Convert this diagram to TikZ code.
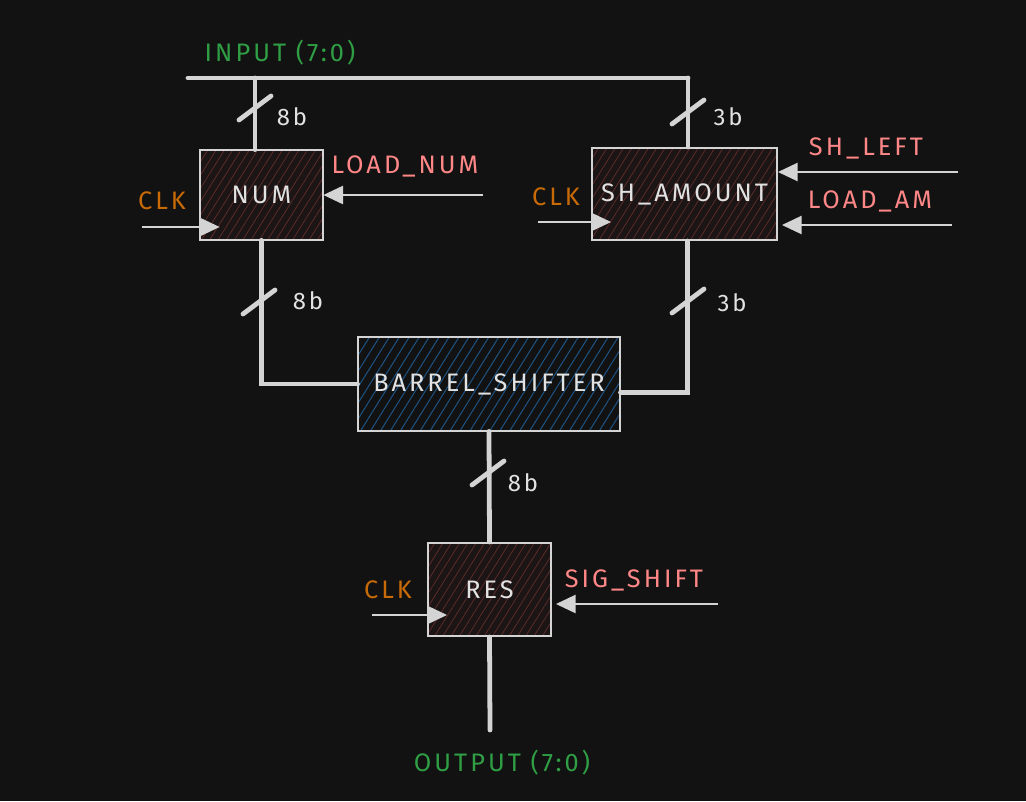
\documentclass[tikz,border=0pt]{standalone}
\usepackage{fontspec}
\setmainfont{Fira Sans}[LetterSpace=12]
\usetikzlibrary{arrows.meta}
\usetikzlibrary{calc}
\usetikzlibrary{patterns.meta}

\definecolor{bgdark}{HTML}{121212}
\definecolor{wire}{HTML}{D4D4D4}
\definecolor{txtlight}{HTML}{E2E2E2}
\definecolor{busgreen}{HTML}{2F9E44}
\definecolor{sigred}{HTML}{FF8787}
\definecolor{clkorange}{HTML}{C86A06}
\definecolor{regfill}{HTML}{1B1515}
\definecolor{reghatch}{HTML}{5E2C2C}
\definecolor{bshatch}{HTML}{1E5485}

\tikzset{
  regbox/.style={draw=wire, line width=1.4pt, text=txtlight,
    preaction={fill=regfill}, pattern={Lines[angle=58, distance=5pt, line width=0.55pt]},
    pattern color=reghatch, font=\fontsize{18}{20}\selectfont},
  shiftbox/.style={draw=wire, line width=1.6pt, text=txtlight,
    preaction={fill=bgdark}, pattern={Lines[angle=58, distance=6pt, line width=0.7pt]},
    pattern color=bshatch, font=\fontsize{18}{20}\selectfont},
  bus/.style={draw=wire, line width=3.4pt, line cap=round},
  slash/.style={draw=wire, line width=3.4pt, line cap=round},
  sig/.style={draw=wire, line width=1.2pt, -{Triangle[length=14pt, width=13pt]}},
  buslbl/.style={text=busgreen, font=\fontsize{18}{20}\selectfont},
  siglbl/.style={text=sigred, font=\fontsize{18}{20}\selectfont},
  clklbl/.style={text=clkorange, font=\fontsize{18}{20}\selectfont},
  bitlbl/.style={text=txtlight, font=\fontsize{17}{19}\selectfont}
}

\begin{document}
\begin{tikzpicture}[x=0.25mm, y=-0.25mm]
  \fill[bgdark] (0,0) rectangle (1026,801);
  \useasboundingbox (0,0) rectangle (1026,801);

  % registers and shifter
  \node[regbox, minimum width=30.75mm, minimum height=22.5mm] (NUM) at (261.5,195) {NUM};
  \node[regbox, minimum width=46.25mm, minimum height=23mm] (SHAM) at (684.5,194) {SH\_AMOUNT};
  \node[shiftbox, minimum width=65.5mm, minimum height=23.5mm] (BS) at (489,384) {BARREL\_SHIFTER};
  \node[regbox, minimum width=30.75mm, minimum height=23.25mm] (RES) at (489.5,589.5) {RES};

  % input bus
  \coordinate (in0) at (188,78);
  \coordinate (in1) at (688,78);
  \coordinate (tapN) at (255,78);
  \node[buslbl] (inlbl) at (280,53) {INPUT (7:0)};
  \draw[bus] (in0) -- (in1);
  \draw[bus] (tapN) -- (tapN |- NUM.north);
  \draw[bus] (in1) -- (in1 |- SHAM.north);

  % register outputs into the shifter
  \draw[bus] (NUM.south) |- (BS.west);
  \draw[bus] (SHAM.south) ++(3,0) |- ([yshift=-6pt]BS.east);
  \draw[bus] (BS.south) -- (RES.north);
  \coordinate (out) at (490,730);
  \draw[bus] (RES.south) -- (out);
  \node[buslbl] (outlbl) at (502,763) {OUTPUT (7:0)};

  % bus width marks
  \coordinate (s1) at (255,108);
  \coordinate (s2) at (688,112);
  \coordinate (s3) at (259,302);
  \coordinate (s4) at (688,301);
  \coordinate (s5) at (488,473);
  \foreach \s in {s1,s2,s3,s4,s5}
    \draw[slash] ($(\s)+(-16,12)$) -- ($(\s)+(16,-12)$);
  \node[bitlbl] (w1) at (292,117) {8b};
  \node[bitlbl] (w2) at (728,117) {3b};
  \node[bitlbl] (w3) at (308,301) {8b};
  \node[bitlbl] (w4) at (732,303) {3b};
  \node[bitlbl] (w5) at (523,483) {8b};

  % control signals
  \coordinate (ldnum) at (483,195);
  \node[siglbl] (ldnumlbl) at (405,166) {LOAD\_NUM};
  \draw[sig] (ldnum) -- (ldnum -| NUM.east);

  \coordinate (shl) at (958,172);
  \node[siglbl] (shllbl) at (866,148) {SH\_LEFT};
  \draw[sig] (shl) -- (shl -| SHAM.east);

  \coordinate (ldam) at (952,225);
  \node[siglbl] (ldamlbl) at (870,201) {LOAD\_AM};
  \draw[sig] (ldam) -- ($(ldam -| SHAM.east)+(4,0)$);

  \coordinate (sigs) at (718,604);
  \node[siglbl] (sigslbl) at (634,580) {SIG\_SHIFT};
  \draw[sig] (sigs) -- ($(sigs -| RES.east)+(4,0)$);

  % clocks
  \coordinate (ck1) at (142,227);
  \coordinate (ck2) at (538,222);
  \coordinate (ck3) at (372,615);
  \node[clklbl] (ck1lbl) at (162,201) {CLK};
  \node[clklbl] (ck2lbl) at (556,197) {CLK};
  \node[clklbl] (ck3lbl) at (388,590) {CLK};
  \draw[sig] (ck1) -- ($(ck1 -| NUM.west)+(20,0)$);
  \draw[sig] (ck2) -- ($(ck2 -| SHAM.west)+(20,0)$);
  \draw[sig] (ck3) -- ($(ck3 -| RES.west)+(20,0)$);
\end{tikzpicture}
\end{document}
